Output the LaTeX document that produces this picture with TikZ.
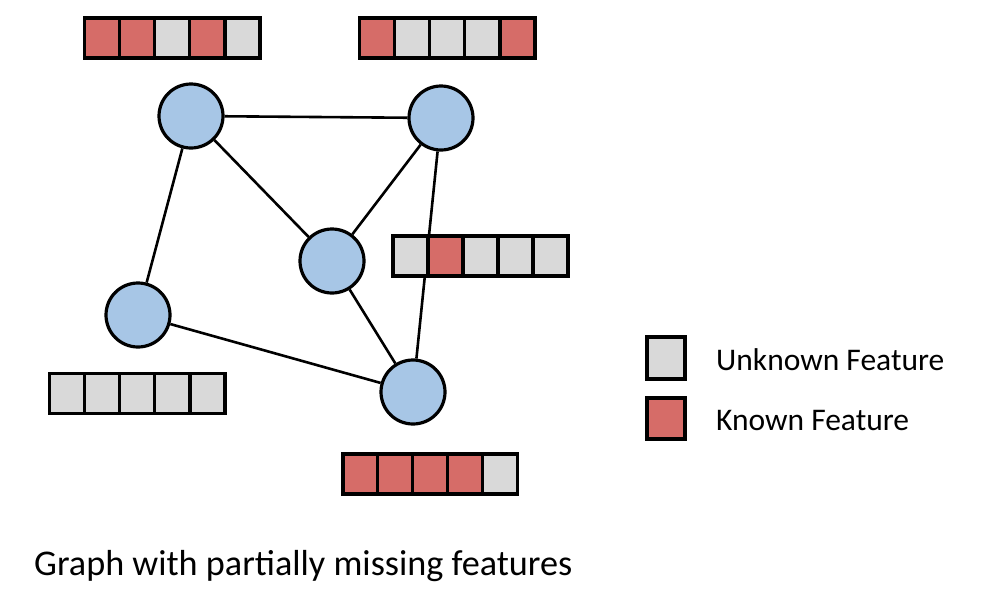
\documentclass[tikz,border=0pt]{standalone}
\usepackage{fontspec}
\setmainfont{Carlito}
\definecolor{known}{RGB}{214,108,104}
\definecolor{unknown}{RGB}{217,217,217}
\definecolor{nodeblue}{RGB}{167,198,230}
\tikzset{
  gnode/.style={circle, draw=black, line width=3.2pt, fill=nodeblue, minimum size=64pt, inner sep=0pt},
  edge/.style={draw=black, line width=2.6pt},
  kcell/.style={draw=black, line width=3.2pt, fill=known, minimum width=35pt, minimum height=40pt, inner sep=0pt},
  ucell/.style={draw=black, line width=3.2pt, fill=unknown, minimum width=35pt, minimum height=40pt, inner sep=0pt},
  lbl/.style={anchor=base west, inner sep=0pt, font=\fontsize{31.5}{36}\selectfont}
}
\begin{document}
\begin{tikzpicture}[x=1pt,y=-1pt]
\useasboundingbox (0,0) rectangle (991,595);
% nodes
\node[gnode] (A) at (191,116) {};
\node[gnode] (B) at (441,118) {};
\node[gnode] (C) at (332,261) {};
\node[gnode] (D) at (138,315) {};
\node[gnode] (E) at (413,392) {};
% edges
\draw[edge] (A) -- (B);
\draw[edge] (A) -- (C);
\draw[edge] (A) -- (D);
\draw[edge] (B) -- (C);
\draw[edge] (B) -- (E);
\draw[edge] (C) -- (E);
\draw[edge] (D) -- (E);
% bar top-left
\node[kcell] (a1) at (101.6,38) {};
\node[kcell] (a2) at (136.8,38) {};
\node[ucell] (a3) at (172,38) {};
\node[kcell] (a4) at (207.2,38) {};
\node[ucell] (a5) at (242.4,38) {};
% bar top-right
\node[kcell] (b1) at (376.6,38) {};
\node[ucell] (b2) at (411.8,38) {};
\node[ucell] (b3) at (447,38) {};
\node[ucell] (b4) at (482.2,38) {};
\node[kcell] (b5) at (517.4,38) {};
% middle bar
\node[ucell] (c1) at (410.5,256) {};
\node[kcell] (c2) at (445.5,256) {};
\node[ucell] (c3) at (480.5,256) {};
\node[ucell] (c4) at (515.5,256) {};
\node[ucell] (c5) at (550.5,256) {};
% left bottom bar
\node[ucell] (d1) at (66.6,393.5) {};
\node[ucell] (d2) at (101.8,393.5) {};
\node[ucell] (d3) at (137,393.5) {};
\node[ucell] (d4) at (172.2,393.5) {};
\node[ucell] (d5) at (207.4,393.5) {};
% bottom bar
\node[kcell] (e1) at (360.4,474) {};
\node[kcell] (e2) at (395.2,474) {};
\node[kcell] (e3) at (430,474) {};
\node[kcell] (e4) at (464.8,474) {};
\node[ucell] (e5) at (499.6,474) {};
% legend
\node[ucell, minimum width=38pt, minimum height=42pt] (lu) at (666,358) {};
\node[kcell, minimum width=38pt, minimum height=41pt] (lk) at (666,418.5) {};
\node[lbl] (tu) at (716,370) {Unknown Feature};
\node[lbl] (tk) at (716,430) {Known Feature};
% caption
\node[anchor=base west, inner sep=0pt, font=\fontsize{36.2}{42}\selectfont] (cap) at (34,575) {Graph with partially missing features};
\end{tikzpicture}
\end{document}
